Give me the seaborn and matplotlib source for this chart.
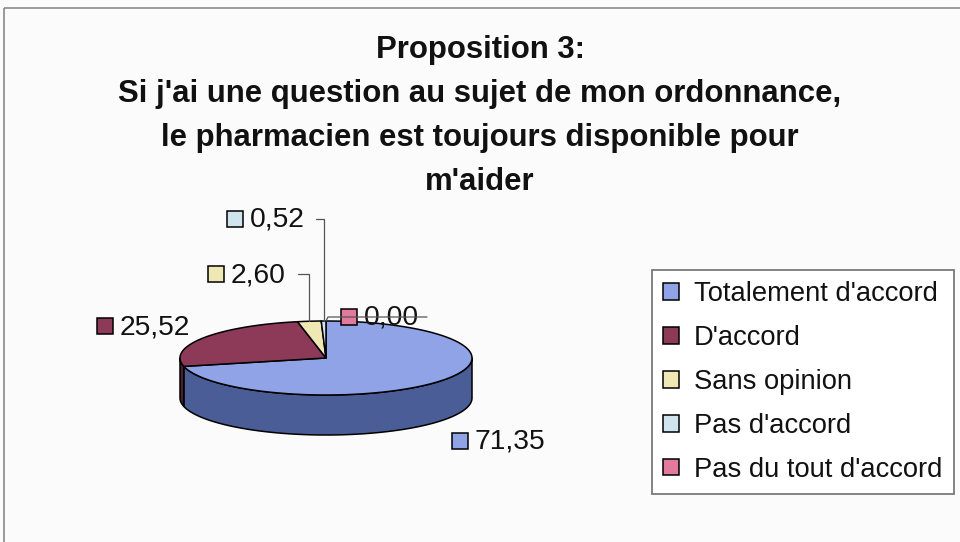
import numpy as np
import matplotlib
matplotlib.use("Agg")
import matplotlib.pyplot as plt
from matplotlib.patches import Polygon, Rectangle, Patch
import seaborn as sns

# Survey answers (percent)
categories = ["Totalement d'accord", "D'accord", "Sans opinion",
              "Pas d'accord", "Pas du tout d'accord"]
values = [71.35, 25.52, 2.60, 0.52, 0.00]
value_labels = ["71,35", "25,52", "2,60", "0,52", "0,00"]

top_colors = ["#8fa3e6", "#8c3a58", "#efe8b4", "#cfe4ee", "#e27a9e"]
side_colors = ["#4a5d96", "#4a1f30", "#a69f6e", "#8aa6b2", "#9a4a68"]

title = ("Proposition 3:\nSi j'ai une question au sujet de mon ordonnance,\n"
         "le pharmacien est toujours disponible pour\nm'aider")

sns.set_theme(style="white")
plt.rcParams["font.family"] = ["Liberation Sans", "DejaVu Sans"]

W, H = 960, 542
fig = plt.figure(figsize=(W / 100, H / 100), dpi=100)
fig.patch.set_facecolor("#fbfbfc")
ax = fig.add_axes([0, 0, 1, 1])
ax.set_xlim(0, W)
ax.set_ylim(H, 0)
ax.axis("off")

# chart frame
ax.add_patch(Rectangle((4, 8), W, H, fill=False, edgecolor="#8a8a8a", lw=1.2))

fig.text(0.5, 1 - 116 / H, title, ha="center", va="center", fontsize=22.4,
         fontweight="bold", linespacing=1.6, color="#111111")

# 3-D pie geometry (pixel space)
cx, cy, rx, ry, depth = 326, 358, 146, 37, 40


def rim(t_deg, dy=0.0):
    t = np.radians(t_deg)
    return cx + rx * np.cos(t), cy - ry * np.sin(t) + dy


def arc(lo, hi, dy=0.0, n=200):
    ts = np.linspace(lo, hi, n)
    xs, ys = rim(ts, dy)
    return np.column_stack([xs, ys])


fractions = np.array(values) / np.sum(values)
ends = np.cumsum(fractions)
starts = ends - fractions
# start at 12 o'clock, going clockwise
slices = [(90 - 360 * e, 90 - 360 * s) for s, e in zip(starts, ends)]

# front walls
for (lo, hi), sc in zip(slices, side_colors):
    for k in (-1, 0, 1):
        a, b = max(lo, -180 + 360 * k), min(hi, 360 * k)
        if b - a > 1e-6:
            upper = arc(a, b)
            lower = arc(b, a, dy=depth)
            ax.add_patch(Polygon(np.vstack([upper, lower]), closed=True,
                                 facecolor=sc, edgecolor="black", lw=1.1,
                                 joinstyle="round", zorder=2))

# top surface
for (lo, hi), tc in zip(slices, top_colors):
    if hi - lo <= 0:
        continue
    pts = np.vstack([[cx, cy], arc(lo, hi), [cx, cy]])
    ax.add_patch(Polygon(pts, closed=True, facecolor=tc, edgecolor="black",
                         lw=1.1, joinstyle="round", zorder=3))

# data labels: (square x, text centre y)
label_pos = [(452, 441), (97, 326), (208, 274), (227, 219), (341, 317)]
sq = 16
fs_lab = 20.3
for (lx, ly), txt, tc in zip(label_pos, value_labels, top_colors):
    ax.add_patch(Rectangle((lx, ly - sq / 2), sq, sq, facecolor=tc,
                           edgecolor="black", lw=1.1, zorder=5))
    ax.text(lx + sq + 7, ly + 1, txt, ha="left", va="center",
            fontsize=fs_lab, color="#111111", zorder=5)

# leader lines for the thin slices
lead = "#555555"
mid = [(lo + hi) / 2 for lo, hi in slices]
x2, y2 = rim(mid[2])
ax.plot([298, x2, x2], [274, 274, y2], color=lead, lw=0.9, zorder=4)
x3, y3 = rim(mid[3])
ax.plot([316, x3, x3], [219, 219, y3], color=lead, lw=0.9, zorder=4)
x4, y4 = rim(mid[4])
ax.plot([x4, x4 + 2, 427], [y4, 317, 317], color=lead, lw=0.9, zorder=6)

# legend
fs_leg = 19.7
handles = [Patch(facecolor=c, edgecolor="black", lw=1.1) for c in top_colors]
leg = ax.legend(handles, categories, loc="upper left",
                bbox_to_anchor=(652, 270), bbox_transform=ax.transData,
                fontsize=fs_leg, frameon=True, fancybox=False, framealpha=1,
                edgecolor="#7a7a7a", borderpad=0.42, labelspacing=0.65,
                handlelength=0.56, handleheight=0.56, handletextpad=0.55,
                borderaxespad=0)
leg.get_frame().set_linewidth(1.3)
leg.get_frame().set_facecolor("white")
for t in leg.get_texts():
    t.set_color("#111111")

fig.savefig("out.png", dpi=100, facecolor=fig.get_facecolor())
